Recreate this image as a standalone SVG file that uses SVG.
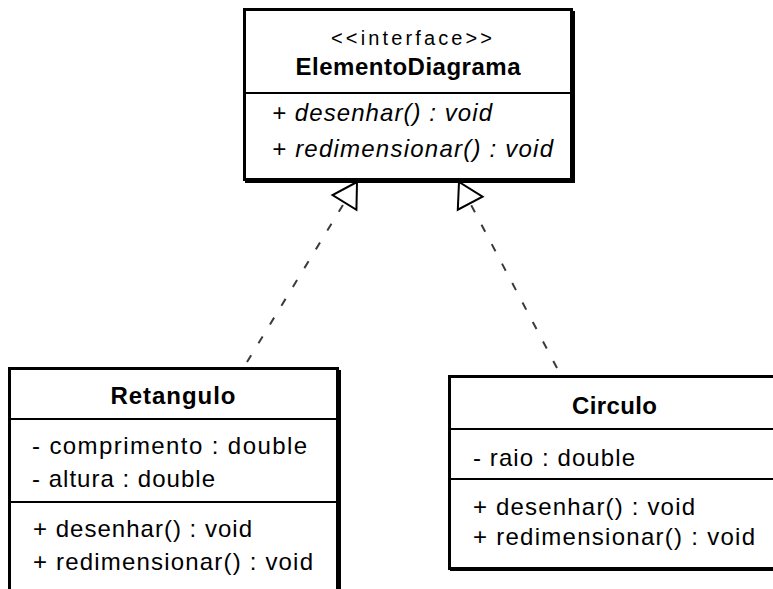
<svg xmlns="http://www.w3.org/2000/svg" width="773" height="589" viewBox="0 0 773 589">
<style>
.bg{fill:#ffffff}
.shadow{fill:#000000}
.box{fill:#ffffff;stroke:#000000;stroke-width:3}
.sep{stroke:#000000;stroke-width:2}
.t{font-family:"Liberation Sans",Arial,Helvetica,sans-serif;fill:#000000;font-size:24px}
.st{font-size:20px}
.b{font-weight:bold;font-size:24px}
.i{font-style:italic}
.dash{fill:none;stroke:#3a3a3a;stroke-width:2;stroke-dasharray:8 14}
</style>
<defs>
<marker id="tri" markerUnits="userSpaceOnUse" orient="auto" markerWidth="30" markerHeight="32" refX="26" refY="16" viewBox="0 0 30 32" overflow="visible">
<path d="M26,16 L2,2 L2,30 Z" fill="#ffffff" stroke="#000000" stroke-width="2" stroke-linejoin="miter"/>
</marker>
</defs>
<rect class="bg" x="0" y="0" width="773" height="589"/>

<g id="ElementoDiagrama">
<rect class="shadow" x="245" y="11" width="330" height="172"/>
<rect class="box" x="244.5" y="9.5" width="327" height="170"/>
<line class="sep" x1="244" y1="93" x2="572" y2="93"/>
<text class="t st" x="411.5" y="45" text-anchor="middle" textLength="161">&lt;&lt;interface&gt;&gt;</text>
<text class="t b" x="408" y="75" text-anchor="middle" textLength="225">ElementoDiagrama</text>
<text class="t i" x="272" y="121" textLength="220">+ desenhar() : void</text>
<text class="t i" x="272" y="157" textLength="281">+ redimensionar() : void</text>
</g>

<g id="Retangulo">
<rect class="shadow" x="10" y="370" width="331" height="240"/>
<rect class="box" x="9.5" y="368.5" width="328" height="240"/>
<line class="sep" x1="9" y1="419" x2="338" y2="419"/>
<line class="sep" x1="9" y1="502" x2="338" y2="502"/>
<text class="t b" x="173" y="404" text-anchor="middle" textLength="125">Retangulo</text>
<text class="t" x="32" y="454" textLength="275">- comprimento : double</text>
<text class="t" x="32" y="487" textLength="183">- altura : double</text>
<text class="t" x="33" y="537" textLength="219">+ desenhar() : void</text>
<text class="t" x="33" y="570" textLength="280">+ redimensionar() : void</text>
</g>

<g id="Circulo">
<rect class="shadow" x="450" y="378" width="340" height="193"/>
<rect class="box" x="449.5" y="376.5" width="340" height="192"/>
<line class="sep" x1="449" y1="429" x2="773" y2="429"/>
<line class="sep" x1="449" y1="479" x2="773" y2="479"/>
<text class="t b" x="614.5" y="414" text-anchor="middle" textLength="85">Circulo</text>
<text class="t" x="473" y="466" textLength="162">- raio : double</text>
<text class="t" x="473" y="515" textLength="222">+ desenhar() : void</text>
<text class="t" x="473" y="545" textLength="282">+ redimensionar() : void</text>
</g>

<g id="connectors">
<path class="dash" d="M247,362 L357,182" marker-end="url(#tri)"/>
<path class="dash" d="M557,368 L459,182" marker-end="url(#tri)"/>
</g>
</svg>
